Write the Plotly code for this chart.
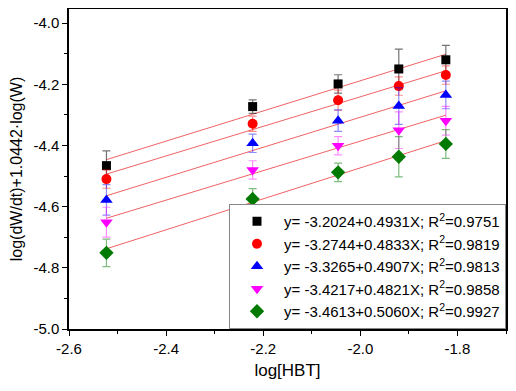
import plotly.graph_objects as go

# x values: log[HBT]
x_vals = [-2.5229, -2.2218, -2.0458, -1.9208, -1.8239]

# series values
y_black = [-4.466, -4.273, -4.199, -4.150, -4.120]
y_red = [-4.510, -4.329, -4.252, -4.206, -4.170]
y_blue = [-4.578, -4.393, -4.319, -4.271, -4.235]
y_magenta = [-4.651, -4.480, -4.401, -4.350, -4.319]
y_green = [-4.751, -4.575, -4.488, -4.437, -4.395]

# error bar half-lengths
e_black = [0.048, 0.022, 0.030, 0.065, 0.047]
e_red = [0.030, 0.025, 0.033, 0.030, 0.030]
e_blue = [0.050, 0.030, 0.035, 0.060, 0.045]
e_magenta = [0.049, 0.030, 0.030, 0.060, 0.047]
e_green = [0.045, 0.034, 0.030, 0.066, 0.047]

# fit coefficients (intercept, slope) and R^2 from the legend
intercepts = [-3.2024, -3.2744, -3.3265, -3.4217, -3.4613]
slopes = [0.4931, 0.4833, 0.4907, 0.4821, 0.5060]
r2 = ["0.9751", "0.9819", "0.9813", "0.9858", "0.9927"]

# tick labels
x_tickvals = [-2.6, -2.4, -2.2, -2.0, -1.8]
x_ticktext = ["-2.6", "-2.4", "-2.2", "-2.0", "-1.8"]
y_tickvals = [-5.0, -4.8, -4.6, -4.4, -4.2, -4.0]
y_ticktext = ["-5.0", "-4.8", "-4.6", "-4.4", "-4.2", "-4.0"]

series_y = [y_black, y_red, y_blue, y_magenta, y_green]
series_e = [e_black, e_red, e_blue, e_magenta, e_green]
colors = ["#000000", "#ff0000", "#0000ff", "#ff00ff", "#007a00"]
err_colors = ["rgba(0,0,0,0.55)", "rgba(255,0,0,0.45)", "rgba(0,0,255,0.45)",
              "rgba(255,0,255,0.45)", "rgba(0,122,0,0.5)"]
symbols = ["square", "circle", "triangle-up", "triangle-down", "diamond"]
sizes = [9, 10, 11, 11, 11]

fig = go.Figure()

# fitted lines
for a, b in zip(intercepts, slopes):
    xs = [x_vals[0], x_vals[-1]]
    fig.add_trace(go.Scatter(
        x=xs, y=[a + b * v for v in xs], mode="lines",
        line=dict(color="#f06262", width=1), showlegend=False, hoverinfo="skip"))

for i in range(5):
    name = "y= %.4f+%.4fX; R<sup>2</sup>=%s" % (intercepts[i], slopes[i], r2[i])
    fig.add_trace(go.Scatter(
        x=x_vals, y=series_y[i], mode="markers", name=name,
        marker=dict(symbol=symbols[i], size=sizes[i], color=colors[i],
                    line=dict(width=0)),
        error_y=dict(type="data", array=series_e[i], visible=True,
                     color=err_colors[i], thickness=1.2, width=4)))

font_fam = "Liberation Sans, Arial"
axis_common = dict(
    showline=True, linecolor="black", linewidth=1.5, mirror=True,
    ticks="outside", ticklen=5, tickwidth=1.2, tickcolor="black",
    showgrid=False, zeroline=False, automargin=False,
    tickfont=dict(family=font_fam, size=15, color="black"),
    minor=dict(ticks="outside", ticklen=3, tickwidth=1.2, tickcolor="black", dtick=0.1),
)

fig.update_xaxes(range=[-2.6, -1.7], tickvals=x_tickvals, ticktext=x_ticktext,
                 title=dict(text="log[HBT]", font=dict(family=font_fam, size=17, color="black"),
                            standoff=8),
                 **axis_common)
fig.update_yaxes(range=[-5.0, -3.954], tickvals=y_tickvals, ticktext=y_ticktext,
                 title=dict(text="log(dW/dt)+1.0442·log(W)",
                            font=dict(family=font_fam, size=16, color="black"),
                            standoff=10),
                 **axis_common)

# the page body adds an 8px offset, so the figure is sized to compensate
fig.update_layout(
    width=508, height=384,
    margin=dict(l=61, r=10, t=1, b=63),
    paper_bgcolor="white", plot_bgcolor="white",
    font=dict(family=font_fam, color="black"),
    legend=dict(x=1, y=0, xanchor="right", yanchor="bottom",
                bgcolor="white", bordercolor="#888888", borderwidth=1,
                font=dict(family=font_fam, size=15, color="black"),
                tracegroupgap=0, itemwidth=44),
)

fig.write_html("out.html")
